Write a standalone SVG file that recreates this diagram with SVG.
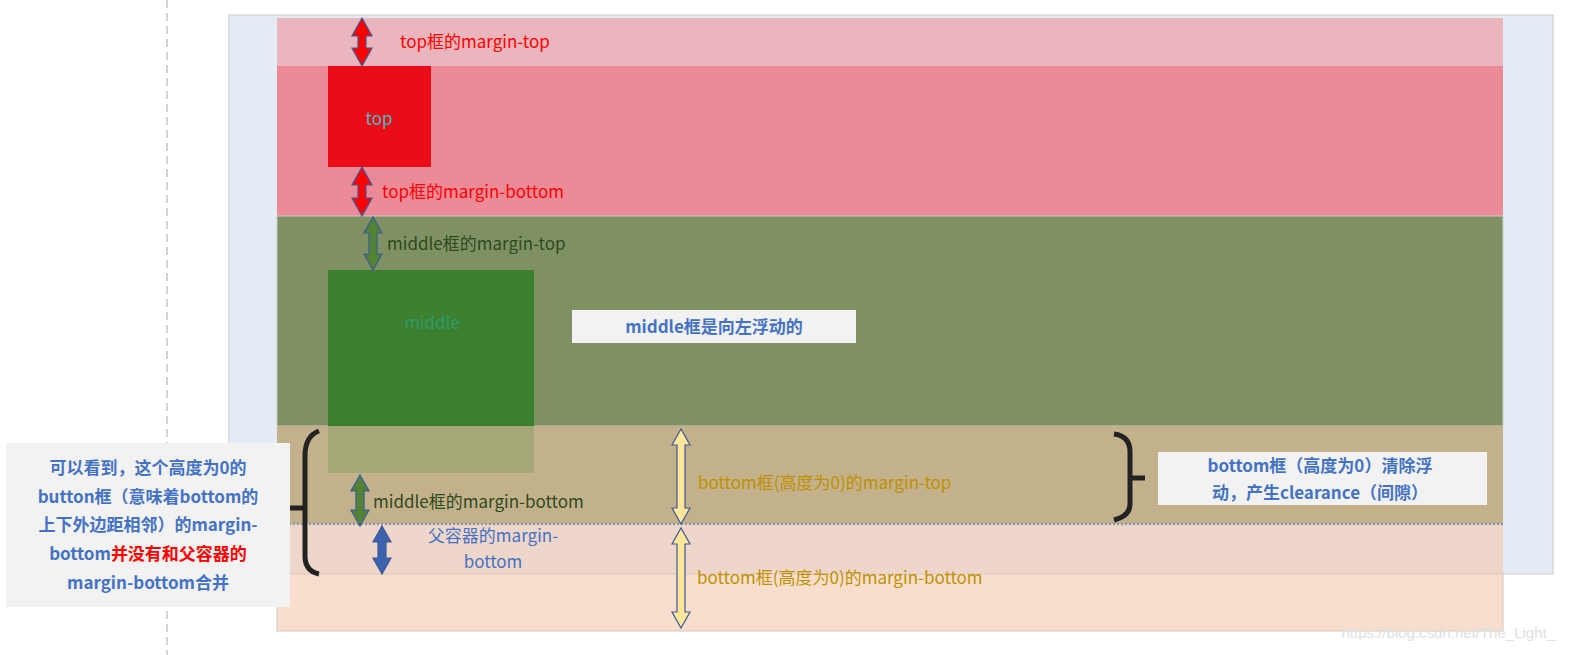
<svg xmlns="http://www.w3.org/2000/svg" width="1580" height="655" viewBox="0 0 1580 655">
<style>
.t{font-family:"Noto Sans CJK SC","Liberation Sans",sans-serif;font-size:17px}
.b{font-family:"Noto Sans CJK SC","Liberation Sans",sans-serif;font-size:17px;font-weight:bold;fill:#4472c4}
.arr{stroke:#3a5a9a;stroke-width:1.2}
.br{fill:none;stroke:#222;stroke-width:5}
</style>
<rect width="1580" height="655" fill="#fff"/>
<line x1="167" y1="0" x2="167" y2="655" stroke="#aaa" stroke-dasharray="8,5"/>
<g id="parent"><rect x="229" y="15" width="1324" height="559" fill="#e5ebf5" stroke="#c8c8c8"/></g>
<g id="bands">
<rect x="277" y="18" width="1226" height="48" fill="#eab5bc"/>
<rect x="277" y="66" width="1226" height="150" fill="#ec8a98"/>
<rect x="277" y="216" width="1226" height="210" fill="#7f9163" stroke="#ccc" stroke-width="1"/>
<rect x="277" y="426" width="1226" height="98" fill="#c3b18b"/>
<rect x="277" y="524" width="1226" height="50" fill="#efd6ca"/>
<rect x="277" y="574" width="1226" height="57" fill="#f8dfcd" stroke="#d8c8bc"/>
<line x1="277" y1="524" x2="1503" y2="524" stroke="#8a9aaa" stroke-width="2.5" stroke-dasharray="2,2"/>
</g>
<g id="top"><rect x="328" y="66" width="103" height="101" fill="#ec0c17"/><text class="t" x="379" y="125" text-anchor="middle" fill="#4bb8c4" font-size="19">top</text></g>
<g id="middle"><rect x="328" y="270" width="206" height="156" fill="#3c7f2e"/><rect x="328" y="426" width="206" height="47" fill="#a7a878"/><text class="t" x="432" y="329" text-anchor="middle" fill="#2f9a6a" font-size="19">middle</text></g>
<g id="note1"><rect x="572" y="310" width="284" height="33" fill="#f2f2f2"/><text class="b" x="714" y="333" text-anchor="middle">middle框是向左浮动的</text></g>
<g id="connectors">
<path class="arr" fill="#ff0000" d="M362,18 l10,18 h-6 v12 h6 l-10,18 l-10,-18 h6 v-12 h-6z"/>
<path class="arr" fill="#ff0000" d="M362,167 l10,18 h-6 v13 h6 l-10,18 l-10,-18 h6 v-13 h-6z"/>
<path class="arr" fill="#548235" d="M373,217 l9,16 h-5 v21 h5 l-9,16 l-9,-16 h5 v-21 h-5z"/>
<path class="arr" fill="#548235" d="M360,475 l9,16 h-5 v19 h5 l-9,16 l-9,-16 h5 v-19 h-5z"/>
<path class="arr" fill="#3d62ad" d="M382,526 l9,16 h-5 v16 h5 l-9,16 l-9,-16 h5 v-16 h-5z"/>
<path class="arr" fill="#ffe699" d="M681,429 l9,16 h-5 v63 h5 l-9,16 l-9,-16 h5 v-63 h-5z"/>
<path class="arr" fill="#ffe699" d="M681,528 l9,16 h-5 v68 h5 l-9,16 l-9,-16 h5 v-68 h-5z"/>
<path class="br" d="M319,431 q-14,5 -14,25 v100 q0,15 14,18 M305,508 h-15"/>
<path class="br" d="M1114,434 q16,2 16,18 v52 q0,12 -16,16 M1130,478 h15"/>
</g>
<g id="labels">
<text class="t" x="400" y="48" fill="#ff0000">top框的margin-top</text>
<text class="t" x="382" y="198" fill="#ff0000">top框的margin-bottom</text>
<text class="t" x="387" y="250" fill="#2e4a1e">middle框的margin-top</text>
<text class="t" x="373" y="508" fill="#2e4a1e">middle框的margin-bottom</text>
<text class="t" x="493" y="542" text-anchor="middle" fill="#4472c4">父容器的margin-</text>
<text class="t" x="493" y="568" text-anchor="middle" fill="#4472c4">bottom</text>
<text class="t" x="698" y="489" fill="#bf9000">bottom框(高度为0)的margin-top</text>
<text class="t" x="697" y="584" fill="#bf9000">bottom框(高度为0)的margin-bottom</text>
</g>
<g id="note2"><rect x="6" y="443" width="284" height="164" fill="#f2f2f2"/>
<text class="b" x="148" y="474" text-anchor="middle">可以看到，这个高度为0的</text>
<text class="b" x="148" y="503" text-anchor="middle">button框（意味着bottom的</text>
<text class="b" x="148" y="531" text-anchor="middle">上下外边距相邻）的margin-</text>
<text class="b" x="148" y="560" text-anchor="middle">bottom<tspan fill="#ff0000">并没有和父容器的</tspan></text>
<text class="b" x="148" y="589" text-anchor="middle" fill="#ff0000">margin-bottom合并</text>
</g>
<g id="note3"><rect x="1158" y="452" width="329" height="53" fill="#f2f2f2"/>
<text class="b" x="1320" y="472" text-anchor="middle">bottom框（高度为0）清除浮</text>
<text class="b" x="1320" y="499" text-anchor="middle">动，产生clearance（间隙）</text>
</g>
<text x="1555" y="638" text-anchor="end" font-family="Liberation Sans,sans-serif" font-size="15" fill="#e0e0e0">https://blog.csdn.net/The_Light_</text>
</svg>
